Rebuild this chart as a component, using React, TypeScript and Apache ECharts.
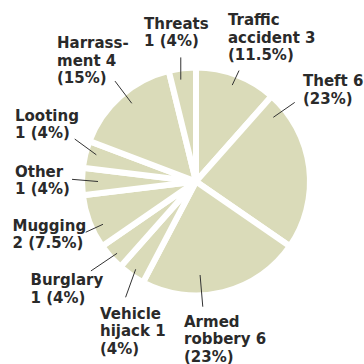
import React, { useEffect, useRef } from "react";
import * as echarts from "echarts";

// ---- data ----
const CATEGORIES = [
  "Traffic accident",
  "Theft",
  "Armed robbery",
  "Vehicle hijack",
  "Burglary",
  "Mugging",
  "Other",
  "Looting",
  "Harrassment",
  "Threats",
];
const VALUES = [3, 6, 6, 1, 1, 2, 1, 1, 4, 1];
const PERCENT_LABELS = ["11.5%", "23%", "23%", "4%", "4%", "7.5%", "4%", "4%", "15%", "4%"];
const LABEL_TEMPLATES = [
  "Traffic\naccident {v}\n({p})",
  "Theft {v}\n({p})",
  "Armed\nrobbery {v}\n({p})",
  "Vehicle\nhijack {v}\n({p})",
  "Burglary\n{v} ({p})",
  "Mugging\n{v} ({p})",
  "Other\n{v} ({p})",
  "Looting\n{v} ({p})",
  "Harrass-\nment {v}\n({p})",
  "Threats\n{v} ({p})",
];

// ---- layout (not data) ----
const CENTER: [number, number] = [196, 181.5];
const RADIUS = 114;
// label box top-left corners
const LABEL_BOX: [number, number][] = [
  [228, 11.5],
  [303, 72.5],
  [184, 313],
  [100, 305],
  [30.5, 271.5],
  [12.5, 217],
  [15, 163],
  [15, 107],
  [57, 34.5],
  [144, 15],
];
// leader lines in polar form: [angle1, r1, angle2, r2] (deg clockwise from top)
const LEADERS: [number, number, number, number][] = [
  [20.6, 103, 21.2, 119],
  [50.3, 100.5, 51.3, 126.5],
  [177.5, 93.6, 176.9, 125.4],
  [214.5, 106.5, 211.3, 135.5],
  [227.7, 106.7, 229.6, 138],
  [245.3, 102.4, 245.3, 121.4],
  [270, 98, 271, 124],
  [285, 103.2, 289.3, 128.5],
  [320.6, 101.2, 321.1, 129],
  [351.5, 103, 353, 125],
];

function polar(a: number, r: number): [number, number] {
  const rad = (a * Math.PI) / 180;
  return [CENTER[0] + r * Math.sin(rad), CENTER[1] - r * Math.cos(rad)];
}

export default function App() {
  const ref = useRef<HTMLDivElement>(null);
  useEffect(() => {
    if (!ref.current) return;
    const chart = echarts.init(ref.current, null, { renderer: "svg" });
    const data = CATEGORIES.map((name, i) => ({ name, value: VALUES[i] }));
    chart.setOption({
      animation: false,
      backgroundColor: "#ffffff",
      series: [
        {
          type: "pie",
          center: CENTER,
          radius: RADIUS,
          startAngle: 90,
          clockwise: true,
          silent: true,
          z: 1,
          itemStyle: {
            color: "#dadbb9",
            borderColor: "#ffffff",
            borderWidth: 6,
          },
          label: { show: false },
          labelLine: { show: false },
          data,
        },
        {
          type: "pie",
          center: CENTER,
          radius: RADIUS,
          startAngle: 90,
          clockwise: true,
          avoidLabelOverlap: false,
          silent: true,
          z: 5,
          itemStyle: {
            color: "rgba(0,0,0,0)",
            borderWidth: 0,
          },
          label: {
            show: true,
            position: "outside",
            fontFamily: "DejaVu Sans",
            fontWeight: "bold",
            fontSize: 15,
            lineHeight: 17.5,
            color: "#2a2a2a",
            formatter: (p: any) =>
              LABEL_TEMPLATES[p.dataIndex]
                .replace("{v}", String(VALUES[p.dataIndex]))
                .replace("{p}", PERCENT_LABELS[p.dataIndex]),
          },
          labelLine: {
            show: true,
            lineStyle: { color: "#333333", width: 1 },
          },
          labelLayout: (params: any) => {
            const i = params.dataIndex;
            const L = LEADERS[i];
            return {
              x: LABEL_BOX[i][0],
              y: LABEL_BOX[i][1],
              align: "left",
              verticalAlign: "top",
              hideOverlap: false,
              labelLinePoints: [polar(L[2], L[3]), polar(L[0], L[1])],
            };
          },
          data,
        },
      ],
    });
    return () => chart.dispose();
  }, []);
  return (
    <div
      ref={ref}
      style={{ position: "absolute", left: 0, top: 0, width: 364, height: 364 }}
    />
  );
}
